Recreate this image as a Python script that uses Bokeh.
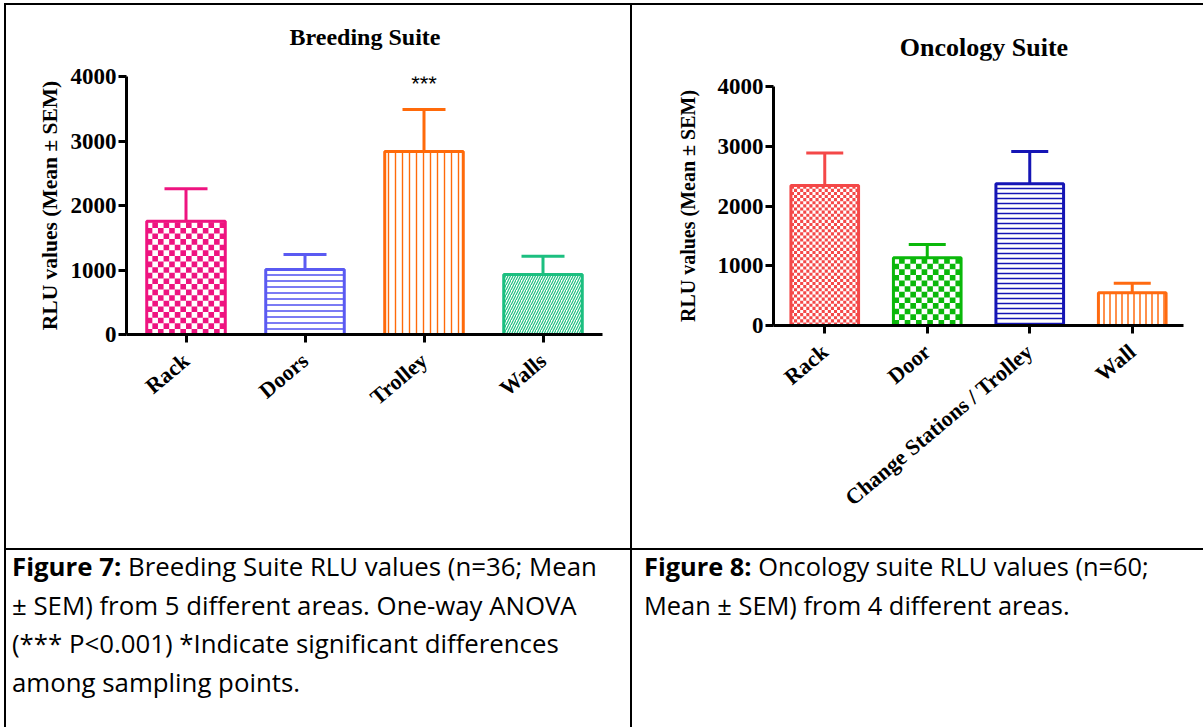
import math
from bokeh.plotting import figure
from bokeh.models import (ColumnDataSource, Range1d, FixedTicker, Div, Spacer,
                          CustomJSTickFormatter)
from bokeh.layouts import row, column
from bokeh.core.properties import value
from bokeh.embed import file_html
from bokeh.resources import INLINE

# ---------------- data ----------------
breed_areas = ["Rack", "Doors", "Trolley", "Walls"]
breed_mean = [1755, 1006, 2837, 930]
breed_sem = [505, 235, 650, 285]
breed_sig_index = [2]
breed_sig_text = ["***"]
breed_sig_level = [3890]

onc_areas = ["Rack", "Door", "Change Stations / Trolley", "Wall"]
onc_mean = [2345, 1133, 2372, 548]
onc_sem = [540, 223, 540, 160]

y_ticks = [0, 1000, 2000, 3000, 4000]

breed_title = "Breeding Suite"
onc_title = "Oncology Suite"
y_label = "RLU values (Mean \u00b1 SEM)"

cap7_lines = ["<b>Figure 7:</b> Breeding Suite RLU values (n=36; Mean",
              "\u00b1 SEM) from 5 different areas. One-way ANOVA",
              "(*** P&lt;0.001) *Indicate significant differences",
              "among sampling points."]
cap8_lines = ["<b>Figure 8:</b> Oncology suite RLU values (n=60;",
              "Mean \u00b1 SEM) from 4 different areas."]

# ---------------- styles ----------------
BAR_W = 0.66
breed_colors = ["#EE1480", "#5A5AF2", "#FF6A0A", "#1CBF80"]
breed_patterns = ["checker", "horizontal_line", "vertical_line", "right_diagonal_line"]
breed_hscale = [11, 6, 7, 5]
breed_hweight = [1, 1.6, 1.4, 1.2]
breed_checker = {0: (14, 87)}          # bar index -> (columns, cell height in data units)

onc_colors = ["#F44848", "#0AB80A", "#1515B5", "#FF6A10"]
onc_patterns = ["checker", "checker", "horizontal_line", "vertical_line"]
onc_hscale = [6, 11, 5, 6]
onc_hweight = [1, 1, 1.5, 1.5]
onc_checker = {0: (22, 52), 1: (12, 94)}

SERIF = "Liberation Serif"


def checker_cells(cx, top, ncols, cell_h, color):
    cw = BAR_W / ncols
    x0 = cx - BAR_W / 2
    nrows = int(math.ceil(top / cell_h))
    out = dict(left=[], right=[], bottom=[], top=[], color=[])
    for r in range(nrows):
        b = r * cell_h
        t = min(top, b + cell_h)
        for c in range(ncols):
            if (r + c) % 2 == 0:
                out["left"].append(x0 + c * cw)
                out["right"].append(x0 + (c + 1) * cw)
                out["bottom"].append(b)
                out["top"].append(t)
                out["color"].append(color)
    return out


def make_chart(areas, mean, sem, colors, patterns, hscale, hweight, checkers,
               W, H, bl, br, bt, bb, tick_size, label_size,
               xlab_size, label_standoff, cap_size):
    p = figure(x_range=Range1d(0, len(areas)), y_range=Range1d(0, 4000),
               width=W, height=H, min_border_left=bl, min_border_right=br,
               min_border_top=bt, min_border_bottom=bb, title=None,
               output_backend="svg", toolbar_location=None,
               background_fill_color="white", border_fill_color="white")
    p.outline_line_color = None
    p.xgrid.grid_line_color = None
    p.ygrid.grid_line_color = None

    xs = [i + 0.5 for i in range(len(areas))]
    upper = [m + s for m, s in zip(mean, sem)]
    hp = ["blank" if pt == "checker" else pt for pt in patterns]
    src = ColumnDataSource(dict(x=xs, top=mean, upper=upper, color=colors,
                                pat=hp, hs=hscale, hw=hweight))
    p.vbar(x="x", top="top", bottom=0, width=BAR_W, source=src,
           fill_color="white", line_color=None,
           hatch_pattern="pat", hatch_color="color", hatch_scale="hs",
           hatch_weight="hw", hatch_alpha=1.0)
    for i, (ncols, ch) in checkers.items():
        cells = checker_cells(xs[i], mean[i], ncols, ch, colors[i])
        p.quad(left="left", right="right", bottom="bottom", top="top",
               source=ColumnDataSource(cells), fill_color="color", line_color=None)
    p.vbar(x="x", top="top", bottom=0, width=BAR_W, source=src,
           fill_color=None, line_color="color", line_width=3)
    p.segment(x0="x", y0="top", x1="x", y1="upper", source=src,
              line_color="color", line_width=3)
    p.scatter(x="x", y="upper", source=src, marker="dash", size=cap_size,
              line_color="color", line_width=3)

    for ax in (p.xaxis[0], p.yaxis[0]):
        ax.axis_line_width = 3
        ax.axis_line_color = "black"
        ax.major_tick_line_width = 3
        ax.major_tick_out = 8
        ax.major_tick_in = 0
        ax.minor_tick_line_color = None
        ax.major_label_text_font = SERIF
        ax.major_label_text_font_style = "bold"
        ax.major_label_text_color = "black"
    p.yaxis.ticker = FixedTicker(ticks=y_ticks)
    p.yaxis.major_label_text_font_size = tick_size
    p.yaxis.major_label_standoff = 2
    p.yaxis.axis_label = y_label
    p.yaxis.axis_label_text_font = SERIF
    p.yaxis.axis_label_text_font_style = "bold"
    p.yaxis.axis_label_text_font_size = label_size
    p.yaxis.axis_label_text_color = "black"
    p.yaxis.axis_label_standoff = label_standoff
    p.xaxis.ticker = FixedTicker(ticks=xs)
    p.xaxis.formatter = CustomJSTickFormatter(args=dict(labels=areas),
                                              code="return labels[Math.floor(tick)];")
    p.xaxis.major_label_orientation = math.radians(40)
    p.xaxis.major_label_text_font_size = xlab_size
    p.xaxis.major_label_standoff = 15
    return p, xs


# left: title strip 50px, figure 493px (frame top at 71px below the border)
p1, bx = make_chart(breed_areas, breed_mean, breed_sem, breed_colors, breed_patterns,
                    breed_hscale, breed_hweight, breed_checker,
                    624, 493, 120, 28, 21, 214, "23px", "21.5px", "22px", 6, 43)
p1.text(x=[bx[i] for i in breed_sig_index], y=breed_sig_level, text=breed_sig_text,
        text_font=value("Liberation Sans"), text_font_size="22px",
        text_align="center", text_baseline="alphabetic", text_color="black")

# right: title strip 55px, figure 488px
p2, ox = make_chart(onc_areas, onc_mean, onc_sem, onc_colors, onc_patterns,
                    onc_hscale, onc_hweight, onc_checker,
                    571, 488, 141, 20, 26, 223, "23px", "20px", "22px", 16, 37)


def title_div(text, w, h, cx, cy, size):
    html = ("<div style=\"position:relative;width:%dpx;height:%dpx;\">"
            "<div style=\"position:absolute;left:%dpx;top:%.1fpx;"
            "transform:translate(-50%%,-50%%);white-space:nowrap;"
            "font-family:'Liberation Serif',serif;font-weight:bold;font-size:%s;"
            "line-height:1;color:#000\">%s</div></div>" % (w, h, cx, cy, size, text))
    return Div(text=html, width=w, height=h, margin=0,
               styles={"background-color": "white"})


def line_div(w, h):
    return Div(text="", width=w, height=h, margin=0,
               styles={"background-color": "black"})


def caption(lines, w, pad, size):
    html = ("<div style=\"font-family:'Open Sans',sans-serif;font-size:%spx;"
            "line-height:38.7px;white-space:nowrap;color:#000;position:relative;"
            "top:-3px;padding-left:%dpx\">%s</div>"
            % (size, pad, "<br>".join(lines)))
    return Div(text=html, width=w, height=177, margin=0)


left_col = column(line_div(624, 2), title_div(breed_title, 624, 50, 359, 31.7, "24px"),
                  p1, line_div(624, 2), caption(cap7_lines, 624, 6, 25.8), spacing=0)
right_col = column(line_div(571, 2), title_div(onc_title, 571, 55, 352, 42.7, "26px"),
                   p2, line_div(571, 2), caption(cap8_lines, 571, 12, 25.4), spacing=0)
body = row(Spacer(width=4, height=724), line_div(2, 724), left_col,
           line_div(2, 724), right_col, spacing=0)
root = column(Spacer(width=1203, height=3), body, spacing=0)

open("out.html", "w").write(file_html(root, INLINE))
